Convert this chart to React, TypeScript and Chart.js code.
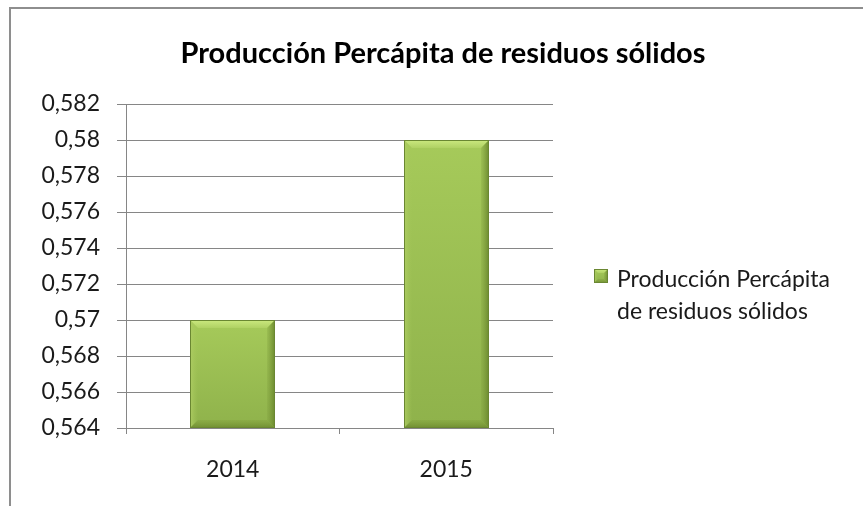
import React, { useEffect, useRef } from "react";
import { Chart, registerables } from "chart.js";

Chart.register(...registerables);

const categories: string[] = ["2014", "2015"];
const values: number[] = [0.57, 0.58];
const seriesLabel = "Producción Percápita de residuos sólidos";
const legendLines: string[] = ["Producción Percápita", "de residuos sólidos"];
const titleText = "Producción Percápita de residuos sólidos";
const yMin = 0.564;
const yMax = 0.582;
const yStep = 0.002;

const FONT = "Lato, 'Open Sans', sans-serif";

function formatTick(v: number): string {
  return String(parseFloat(v.toFixed(3))).replace(".", ",");
}

function poly(ctx: CanvasRenderingContext2D, pts: number[][], fill: string | CanvasGradient) {
  ctx.fillStyle = fill;
  ctx.beginPath();
  ctx.moveTo(pts[0][0], pts[0][1]);
  for (let i = 1; i < pts.length; i++) ctx.lineTo(pts[i][0], pts[i][1]);
  ctx.closePath();
  ctx.fill();
}

function drawBevelBar(ctx: CanvasRenderingContext2D, x0: number, y0: number, x1: number, y1: number, b: number) {
  const w = x1 - x0;
  const h = y1 - y0;
  const bb = Math.min(b, w / 2, h / 2);
  const g = ctx.createLinearGradient(0, y0, 0, y1);
  g.addColorStop(0, "#a6ca5a");
  g.addColorStop(1, "#8fb24b");
  ctx.fillStyle = g;
  ctx.fillRect(x0, y0, w, h);
  const gt = ctx.createLinearGradient(0, y0, 0, y0 + bb);
  gt.addColorStop(0, "#cbe97f");
  gt.addColorStop(1, "#afd163");
  poly(ctx, [[x0, y0], [x1, y0], [x1 - bb, y0 + bb], [x0 + bb, y0 + bb]], gt);
  const gl = ctx.createLinearGradient(x0, 0, x0 + bb, 0);
  gl.addColorStop(0, "rgba(175,205,100,0.9)");
  gl.addColorStop(1, "rgba(165,200,90,0)");
  poly(ctx, [[x0, y0], [x0 + bb, y0 + bb], [x0 + bb, y1 - bb], [x0, y1]], gl);
  const gr = ctx.createLinearGradient(x1 - bb, 0, x1, 0);
  gr.addColorStop(0, "rgba(120,150,55,0.2)");
  gr.addColorStop(1, "rgba(105,135,45,0.95)");
  poly(ctx, [[x1, y0], [x1 - bb, y0 + bb], [x1 - bb, y1 - bb], [x1, y1]], gr);
  const gb = ctx.createLinearGradient(0, y1 - bb, 0, y1);
  gb.addColorStop(0, "rgba(125,155,58,0.3)");
  gb.addColorStop(1, "rgba(110,140,48,0.95)");
  poly(ctx, [[x0, y1], [x1, y1], [x1 - bb, y1 - bb], [x0 + bb, y1 - bb]], gb);
  ctx.strokeStyle = "#6a8732";
  ctx.lineWidth = 1;
  ctx.strokeRect(x0 + 0.5, y0 + 0.5, w - 1, h - 1);
}

const decorPlugin = {
  id: "decor",
  afterDatasetsDraw(chart: any) {
    const ctx: CanvasRenderingContext2D = chart.ctx;
    const area = chart.chartArea;
    const meta = chart.getDatasetMeta(0);
    ctx.save();
    meta.data.forEach((bar: any) => {
      const p = bar.getProps(["x", "y", "base", "width"], true);
      const x0 = Math.round(p.x - p.width / 2);
      const x1 = Math.round(p.x + p.width / 2);
      const y0 = Math.round(Math.max(area.top, Math.min(p.y, p.base)));
      const y1 = Math.round(Math.min(area.bottom, Math.max(p.y, p.base)));
      drawBevelBar(ctx, x0, y0, x1, y1, 8);
    });
    ctx.restore();
  },
  afterDraw(chart: any) {
    const ctx: CanvasRenderingContext2D = chart.ctx;
    ctx.save();
    ctx.fillStyle = "#000";
    ctx.font = `bold 29px ${FONT}`;
    ctx.textAlign = "center";
    ctx.textBaseline = "alphabetic";
    ctx.fillText(titleText, 443, 63);
    const bx = 594, by = 269, bs = 14;
    drawBevelBar(ctx, bx, by, bx + bs, by + bs, 4);
    ctx.fillStyle = "#1a1a1a";
    ctx.font = `23px ${FONT}`;
    ctx.textAlign = "left";
    ctx.textBaseline = "alphabetic";
    ctx.fillText(legendLines[0], 617, 287);
    ctx.fillText(legendLines[1], 617, 319);
    ctx.restore();
  },
};

export default function App() {
  const ref = useRef<HTMLCanvasElement | null>(null);
  useEffect(() => {
    if (!ref.current) return;
    const chart = new Chart(ref.current, {
      type: "bar",
      data: {
        labels: categories,
        datasets: [
          {
            label: seriesLabel,
            data: values,
            backgroundColor: "rgba(0,0,0,0)",
            borderWidth: 0,
            categoryPercentage: 0.8,
            barPercentage: 0.5,
          },
        ],
      },
      options: {
        responsive: false,
        animation: false,
        layout: { padding: { left: 0, right: 863 - 553, top: 104, bottom: 0 } },
        plugins: {
          legend: { display: false },
          title: { display: false },
          tooltip: { enabled: false },
        },
        scales: {
          x: {
            grid: {
              offset: true,
              drawOnChartArea: false,
              drawTicks: true,
              tickLength: 6,
              color: "#868686",
            },
            border: { color: "#868686", width: 1 },
            ticks: {
              color: "#1a1a1a",
              padding: 22,
              font: { family: FONT, size: 23 },
            },
            afterFit(scale: any) {
              scale.height = 506 - 428;
            },
          },
          y: {
            min: yMin,
            max: yMax,
            grid: {
              color: "#868686",
              drawTicks: true,
              tickLength: 9,
            },
            border: { color: "#868686", width: 1 },
            ticks: {
              stepSize: yStep,
              color: "#1a1a1a",
              padding: 17,
              font: { family: FONT, size: 23 },
              callback: (v: any) => formatTick(Number(v)),
            },
            afterFit(scale: any) {
              scale.width = 126;
            },
          },
        },
      },
      plugins: [decorPlugin],
    });
    if ((document as any).fonts && (document as any).fonts.load) {
      Promise.all([
        (document as any).fonts.load(`23px Lato`),
        (document as any).fonts.load(`bold 29px Lato`),
      ]).then(() => chart.update()).catch(() => {});
    }
    return () => chart.destroy();
  }, []);
  return (
    <div style={{ position: "fixed", left: 0, top: 0, width: 863, height: 506, background: "#fff", overflow: "hidden" }}>
      <div
        style={{
          position: "absolute",
          left: 9,
          top: 7,
          width: 900,
          height: 600,
          border: "2px solid #8e8e8e",
          boxSizing: "border-box",
        }}
      />
      <canvas ref={ref} width={863} height={506} style={{ position: "absolute", left: 0, top: 0, display: "block" }} />
    </div>
  );
}
